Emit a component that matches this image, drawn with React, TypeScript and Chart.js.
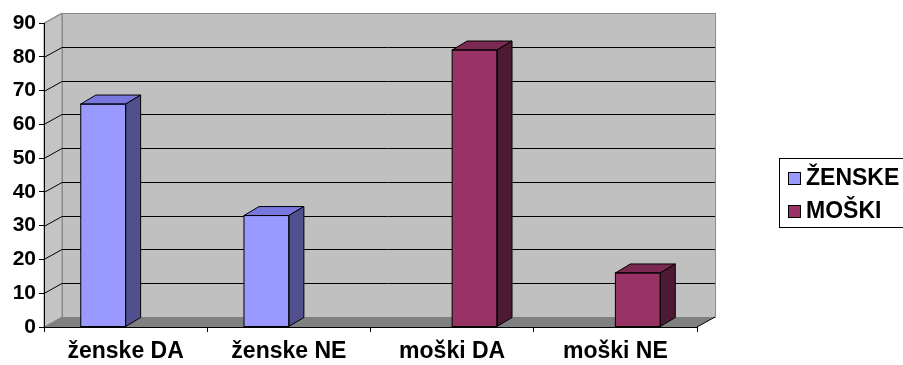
import React, { useEffect, useRef } from "react";
import { Chart, registerables } from "chart.js";

Chart.register(...registerables);

// ---- data ----
const categories = ["ženske DA", "ženske NE", "moški DA", "moški NE"];
const seriesLabels = ["ŽENSKE", "MOŠKI"];
const zenskeValues: (number | null)[] = [66, 33, null, null];
const moskiValues: (number | null)[] = [null, null, 82, 16];
const yMin = 0;
const yMax = 90;
const yStep = 10;

// ---- styles ----
const FONT = '"Liberation Sans", Arial, sans-serif';
const frontColors = ["#9999ff", "#993366"];
const topColors = ["#7777dd", "#7a2952"];
const sideColors = ["#50508f", "#4d1a33"];
const WALL_DX = 18;
const WALL_DY = -10;
const BAR_DX = 15;
const BAR_DY = -9;

const threeD = {
  id: "threeD",
  beforeDraw(chart: any) {
    const { ctx, chartArea } = chart;
    const { left, right, top, bottom } = chartArea;
    const ys = chart.scales.y;
    ctx.save();
    // back wall
    ctx.fillStyle = "#c0c0c0";
    ctx.strokeStyle = "#8a8a8a";
    ctx.lineWidth = 1;
    ctx.fillRect(left + WALL_DX, top + WALL_DY, right - left, bottom - top);
    ctx.strokeRect(left + WALL_DX + 0.5, top + WALL_DY + 0.5, right - left, bottom - top);
    // left wall
    ctx.fillStyle = "#c4c4c4";
    ctx.beginPath();
    ctx.moveTo(left, top);
    ctx.lineTo(left + WALL_DX, top + WALL_DY);
    ctx.lineTo(left + WALL_DX, bottom + WALL_DY);
    ctx.lineTo(left, bottom);
    ctx.closePath();
    ctx.fill();
    ctx.stroke();
    // floor
    ctx.fillStyle = "#808080";
    ctx.beginPath();
    ctx.moveTo(left, bottom);
    ctx.lineTo(left + WALL_DX, bottom + WALL_DY);
    ctx.lineTo(right + WALL_DX, bottom + WALL_DY);
    ctx.lineTo(right, bottom);
    ctx.closePath();
    ctx.fill();
    ctx.strokeStyle = "#000";
    ctx.beginPath();
    ctx.moveTo(right, bottom);
    ctx.lineTo(right + WALL_DX, bottom + WALL_DY);
    ctx.stroke();
    // gridlines
    for (let v = yMin + yStep; v <= yMax; v += yStep) {
      const y = Math.round(ys.getPixelForValue(v)) + 0.5;
      ctx.strokeStyle = v === yMax ? "#8a8a8a" : "#000";
      ctx.beginPath();
      ctx.moveTo(left, y);
      ctx.lineTo(left + WALL_DX, y + WALL_DY);
      ctx.lineTo(right + WALL_DX, y + WALL_DY);
      ctx.stroke();
    }
    ctx.restore();
  },
  afterDatasetsDraw(chart: any) {
    const { ctx } = chart;
    ctx.save();
    ctx.strokeStyle = "#000";
    ctx.lineWidth = 1;
    chart.data.datasets.forEach((ds: any, i: number) => {
      const meta = chart.getDatasetMeta(i);
      meta.data.forEach((el: any, j: number) => {
        if (ds.data[j] === null || ds.data[j] === undefined) return;
        const { x, y, base, width } = el.getProps(["x", "y", "base", "width"], true);
        const l = x - width / 2;
        const r = x + width / 2;
        // top
        ctx.fillStyle = topColors[i];
        ctx.beginPath();
        ctx.moveTo(l, y);
        ctx.lineTo(l + BAR_DX, y + BAR_DY);
        ctx.lineTo(r + BAR_DX, y + BAR_DY);
        ctx.lineTo(r, y);
        ctx.closePath();
        ctx.fill();
        ctx.stroke();
        // side
        ctx.fillStyle = sideColors[i];
        ctx.beginPath();
        ctx.moveTo(r, y);
        ctx.lineTo(r + BAR_DX, y + BAR_DY);
        ctx.lineTo(r + BAR_DX, base + BAR_DY);
        ctx.lineTo(r, base);
        ctx.closePath();
        ctx.fill();
        ctx.stroke();
        // front outline
        ctx.strokeRect(l, y, width, base - y);
      });
    });
    ctx.restore();
  },
  afterDraw(chart: any) {
    const { ctx } = chart;
    ctx.save();
    ctx.strokeStyle = "#000";
    ctx.lineWidth = 1;
    ctx.fillStyle = "#fff";
    ctx.fillRect(780, 158, 140, 69);
    ctx.strokeRect(779.5, 158.5, 140, 69);
    ctx.font = `bold 23px ${FONT}`;
    ctx.textBaseline = "middle";
    chart.data.datasets.forEach((ds: any, i: number) => {
      const cy = 178 + i * 33;
      ctx.fillStyle = frontColors[i];
      ctx.fillRect(788, cy - 6, 13, 13);
      ctx.strokeRect(788.5, cy - 5.5, 12, 12);
      ctx.fillStyle = "#000";
      ctx.fillText(ds.label, 806, cy + 1);
    });
    ctx.restore();
  },
};

export default function App() {
  const ref = useRef<HTMLCanvasElement>(null);
  useEffect(() => {
    document.body.style.margin = "0";
    const chart = new Chart(ref.current!, {
      type: "bar",
      data: {
        labels: categories,
        datasets: [
          {
            label: seriesLabels[0],
            data: zenskeValues,
            backgroundColor: frontColors[0],
            borderWidth: 0,
            categoryPercentage: 0.55,
            barPercentage: 1,
          },
          {
            label: seriesLabels[1],
            data: moskiValues,
            backgroundColor: frontColors[1],
            borderWidth: 0,
            categoryPercentage: 0.55,
            barPercentage: 1,
          },
        ],
      },
      options: {
        responsive: false,
        animation: false,
        layout: { padding: { top: 23, right: 206, left: 0, bottom: 0 } },
        plugins: { legend: { display: false }, tooltip: { enabled: false } },
        scales: {
          x: {
            grid: { drawOnChartArea: false, tickLength: 5, color: "#000", offset: true },
            border: { display: true, color: "#000" },
            ticks: {
              color: "#000",
              font: { family: FONT, size: 23, weight: "bold" },
              padding: 6,
              maxRotation: 0,
              autoSkip: false,
            },
            afterFit: (s: any) => {
              s.height = 38;
            },
          },
          y: {
            min: yMin,
            max: yMax,
            grid: { drawOnChartArea: false, tickLength: 5, color: "#000" },
            border: { display: true, color: "#000" },
            ticks: {
              stepSize: yStep,
              color: "#000",
              font: { family: FONT, size: 21, weight: "bold" },
              padding: 3,
            },
            afterFit: (s: any) => {
              s.width = 44;
            },
          },
        },
      },
      plugins: [threeD],
    });
    return () => chart.destroy();
  }, []);
  return (
    <div style={{ width: 903, height: 365 }}>
      <canvas ref={ref} width={903} height={365} />
    </div>
  );
}
